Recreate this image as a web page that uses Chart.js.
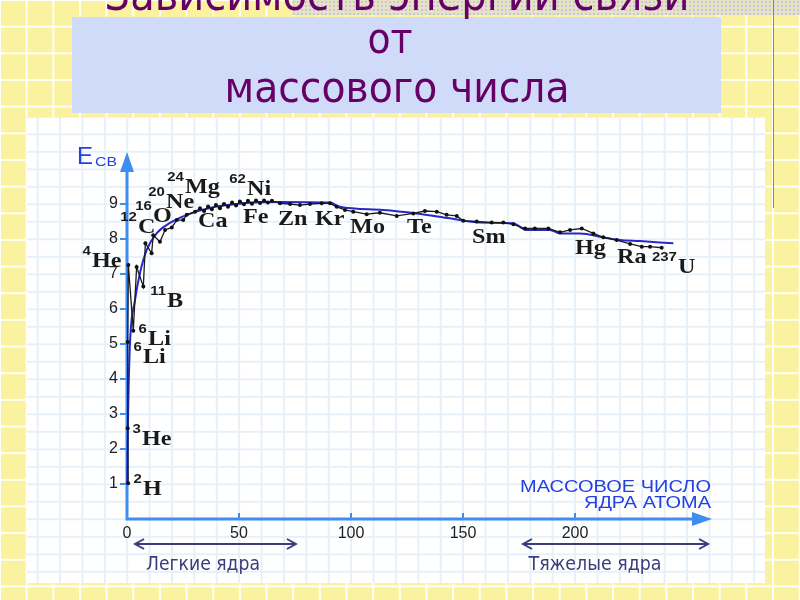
<!DOCTYPE html>
<html lang="ru">
<head>
<meta charset="utf-8">
<title>Зависимость энергии связи от массового числа</title>
<script src="https://cdn.jsdelivr.net/npm/chart.js@4.4.1/dist/chart.umd.min.js"></script>
<style>
  html, body { margin: 0; padding: 0; }
  body {
    width: 800px; height: 600px; overflow: hidden; position: relative;
    background-color: #faf29e;
    background-image: linear-gradient(to right, rgba(255,255,255,.95) 2px, transparent 2px),
                      linear-gradient(to bottom, rgba(255,255,255,.95) 2px, transparent 2px);
    background-size: 26.67px 26.67px;
    background-position: -1px -1px;
  }
  #strip { position: absolute; left: 292px; top: 0; width: 508px; height: 15px;
    background-color: #e6e2c4;
    background-image: radial-gradient(circle, #c8c7d6 1px, transparent 1.4px);
    background-size: 4px 4px; }
  #vline { position: absolute; left: 773px; top: 0; width: 1px; height: 208px; background: #7f86b4; }
  #titlebox { position: absolute; left: 72px; top: 17px; width: 649px; height: 96px; background: #cfdbf8; }
  #panel { position: absolute; left: 27px; top: 117px; width: 738px; height: 466px;
    background-color: #fff;
    background-image: linear-gradient(to right, #e6f0f9 1.5px, transparent 1.5px),
                      linear-gradient(to bottom, #e6f0f9 1.5px, transparent 1.5px);
    background-size: 22.4px 17.5px;
    background-position: 9.7px 0, 0 -1.2px; }
  #chart { position: absolute; left: 27px; top: 117px; }
  #overlay { position: absolute; left: 0; top: 0; pointer-events: none; }
</style>
</head>
<body>
<div id="strip"></div>
<div id="vline"></div>
<div id="titlebox"></div>
<div id="panel"></div>
<canvas id="chart" width="738" height="466"></canvas>
<svg id="overlay" width="800" height="600">
  <g font-family="'DejaVu Sans Condensed', 'DejaVu Sans'" fill="#660066" text-anchor="middle">
    <text x="397" y="10" font-size="44" textLength="585" lengthAdjust="spacingAndGlyphs">Зависимость энергии связи</text>
    <text x="390" y="53" font-size="42">от</text>
    <text x="397" y="102" font-size="42" textLength="345" lengthAdjust="spacingAndGlyphs">массового числа</text>
  </g>
  <g font-family="'Liberation Sans', Arial" fill="#2440e0">
    <text x="77" y="164" font-size="24">Е</text>
    <text x="95" y="166" font-size="13" textLength="22" lengthAdjust="spacingAndGlyphs">СВ</text>
    <text x="711" y="492" font-size="16.5" text-anchor="end" textLength="191" lengthAdjust="spacingAndGlyphs">МАССОВОЕ ЧИСЛО</text>
    <text x="711" y="508" font-size="16.5" text-anchor="end" textLength="127" lengthAdjust="spacingAndGlyphs">ЯДРА АТОМА</text>
  </g>
  <g font-family="'DejaVu Sans Condensed', 'DejaVu Sans'" fill="#3a3c7c" font-size="20" text-anchor="middle">
    <text x="203" y="570" textLength="114" lengthAdjust="spacingAndGlyphs">Легкие ядра</text>
    <text x="595" y="570" textLength="133" lengthAdjust="spacingAndGlyphs">Тяжелые ядра</text>
  </g>
</svg>
<script>
// experimental binding energy per nucleon (black line with dots)
let expMass = [0.5, 0.3, 0.3, 0.6, 2.8, 4.3, 7.3, 8.2, 11.0, 11.7, 14.7, 17.0, 20.0, 22.2, 25.1, 26.7, 30.4, 32.6,
  34.4, 36.2, 37.9, 39.7, 41.5, 43.3, 45.1, 46.9, 48.7, 50.4, 52.2, 54.0, 55.8, 57.6, 59.4, 61.2, 62.9, 64.7,
  68.3, 72.8, 77.2, 81.7, 86.9, 90.6, 93.6, 97.3, 101.0, 107.0, 112.9, 120.4, 127.8, 133.0, 138.3, 142.7, 147.2,
  150.1, 156.1, 162.8, 168.0, 172.5, 177.7, 182.1, 188.1, 193.3, 197.8, 203.0, 208.2, 212.6, 218.6, 224.6,
  229.8, 233.5, 238.7];
let expEnergy = [1.02, 2.59, 5.06, 7.26, 5.38, 7.2, 6.64, 7.88, 7.59, 8.11, 7.92, 8.26, 8.33, 8.54, 8.54, 8.69, 8.78, 8.88,
  8.8, 8.93, 8.85, 8.97, 8.88, 9.0, 8.92, 9.04, 8.96, 9.07, 8.99, 9.09, 9.01, 9.1, 9.03, 9.1, 9.04, 9.09,
  9.02, 9.0, 8.97, 9.0, 9.02, 9.02, 8.92, 8.83, 8.78, 8.71, 8.75, 8.66, 8.73, 8.8, 8.78, 8.69, 8.66,
  8.52, 8.5, 8.47, 8.47, 8.42, 8.3, 8.3, 8.3, 8.19, 8.26, 8.3, 8.16, 8.05, 7.97, 7.86,
  7.78, 7.78, 7.75];

// smooth curve (blue)
let fitMass = [0.1, 0.5, 1.3, 3.6, 5.8, 8.8, 13.3, 19.2, 26.7, 38.4, 53.4, 68.3, 90.6, 95.1, 114.4, 129.3, 144.2,
  157.6, 172.3, 178.4, 188.8, 193.3, 202.2, 212.5, 220.1, 229.0, 237.9, 243.9];
let fitEnergy = [1.0, 3.0, 4.97, 6.26, 7.03, 7.69, 8.17, 8.46, 8.69, 8.91, 9.03, 9.06, 9.04, 8.92, 8.83, 8.73, 8.59,
  8.47, 8.45, 8.26, 8.26, 8.16, 8.16, 8.05, 7.97, 7.94, 7.9, 7.88];

// nuclide labels
let nuclideMassNo = ['4', '12', '16', '20', '24', '62', '', '', '', '', '', '', '', '', '', '237', '11', '6', '6', '3', '2'];
let nuclideSymbol = ['He', 'C', 'O', 'Ne', 'Mg', 'Ni', 'Fe', 'Ca', 'Zn', 'Kr', 'Mo', 'Te', 'Sm', 'Hg', 'Ra', 'U', 'B', 'Li', 'Li', 'He', 'H'];
let labelMass = [-15.6, 4.9, 11.6, 17.4, 25.9, 53.6, 51.8, 31.7, 67.4, 83.9, 99.6, 125.0, 154.0, 200.0, 218.8, 246.0, 17.9, 9.4, 7.1, 6.7, 7.1];
let labelEnergy = [7.2, 8.17, 8.49, 8.89, 9.31, 9.26, 8.46, 8.34, 8.4, 8.4, 8.17, 8.17, 7.89, 7.57, 7.31, 7.03, 6.06, 4.97, 4.46, 2.11, 0.69];

// light and heavy nuclei ranges
let lightRange = [3.6, 75.4];
let heavyRange = [176.8, 259.4];

const AXIS_BLUE = '#3d8ef0';

const axesAndLabels = {
  id: 'axesAndLabels',
  beforeDatasetsDraw(chart) {
    const {ctx, chartArea: a, scales: {x, y}} = chart;
    ctx.save();
    ctx.strokeStyle = AXIS_BLUE;
    ctx.fillStyle = AXIS_BLUE;
    ctx.lineWidth = 3;
    ctx.beginPath();
    ctx.moveTo(a.left, a.bottom + 1.5);
    ctx.lineTo(a.left, a.top + 12);
    ctx.moveTo(a.left - 1.5, a.bottom);
    ctx.lineTo(a.right - 12, a.bottom);
    ctx.stroke();
    // arrow heads
    ctx.beginPath();
    ctx.moveTo(a.left, a.top);
    ctx.lineTo(a.left - 7, a.top + 20);
    ctx.lineTo(a.left + 7, a.top + 20);
    ctx.closePath();
    ctx.moveTo(a.right, a.bottom);
    ctx.lineTo(a.right - 20, a.bottom - 7);
    ctx.lineTo(a.right - 20, a.bottom + 7);
    ctx.closePath();
    ctx.fill();
    // tick marks
    ctx.lineWidth = 2;
    ctx.beginPath();
    x.ticks.forEach(t => {
      if (t.value > 0 && t.value <= 200) {
        const px = x.getPixelForValue(t.value);
        ctx.moveTo(px, a.bottom);
        ctx.lineTo(px, a.bottom - 6);
      }
    });
    y.ticks.forEach(t => {
      if (t.value >= 1 && t.value <= 9) {
        const py = y.getPixelForValue(t.value);
        ctx.moveTo(a.left - 7, py);
        ctx.lineTo(a.left, py);
      }
    });
    ctx.stroke();

    // light / heavy nuclei double arrows
    ctx.strokeStyle = '#3a3c7c';
    ctx.lineWidth = 2;
    const yy = a.bottom + 25;
    [lightRange, heavyRange].forEach(r => {
      const x0 = x.getPixelForValue(r[0]), x1 = x.getPixelForValue(r[1]);
      ctx.beginPath();
      ctx.moveTo(x0, yy); ctx.lineTo(x1, yy);
      ctx.moveTo(x0 + 9, yy - 5); ctx.lineTo(x0, yy); ctx.lineTo(x0 + 9, yy + 5);
      ctx.moveTo(x1 - 9, yy - 5); ctx.lineTo(x1, yy); ctx.lineTo(x1 - 9, yy + 5);
      ctx.stroke();
    });
    ctx.restore();
  },
  afterDatasetsDraw(chart) {
    const {ctx, scales: {x, y}} = chart;
    ctx.save();
    ctx.fillStyle = '#1a1a1a';
    ctx.textBaseline = 'alphabetic';
    nuclideSymbol.forEach((sym, i) => {
      const px = x.getPixelForValue(labelMass[i]);
      const py = y.getPixelForValue(labelEnergy[i]);
      ctx.save();
      ctx.translate(px, py);
      ctx.scale(1.15, 1);
      ctx.font = 'bold 21px "Liberation Serif", "Times New Roman", serif';
      ctx.textAlign = 'left';
      ctx.fillText(sym, 0, 0);
      if (nuclideMassNo[i]) {
        ctx.font = 'bold 13px "Liberation Sans", Arial, sans-serif';
        ctx.textAlign = 'right';
        ctx.fillText(nuclideMassNo[i], -1, -12);
      }
      ctx.restore();
    });
    ctx.restore();
  }
};

const tickFont = {family: '"Liberation Sans", Arial, sans-serif', size: 16};

new Chart(document.getElementById('chart'), {
  type: 'line',
  data: {
    datasets: [{
      label: 'эксперимент',
      data: expMass.map((m, i) => ({x: m, y: expEnergy[i]})),
      borderColor: '#1c1c1c',
      backgroundColor: '#111',
      borderWidth: 1.3,
      pointRadius: 2,
      pointBorderWidth: 0,
      tension: 0,
      clip: false,
      order: 0
    }, {
      label: 'расчёт',
      data: fitMass.map((m, i) => ({x: m, y: fitEnergy[i]})),
      borderColor: '#2828c8',
      borderWidth: 2,
      pointRadius: 0,
      cubicInterpolationMode: 'monotone',
      clip: false,
      order: 1
    }]
  },
  options: {
    responsive: false,
    animation: false,
    events: [],
    layout: {padding: {top: 35, right: 53, left: 0, bottom: 0}},
    plugins: {legend: {display: false}, tooltip: {enabled: false}},
    scales: {
      x: {
        type: 'linear',
        min: 0,
        max: 261.16,
        afterFit(s) { s.height = 64; },
        grid: {display: false, drawTicks: false},
        border: {display: false},
        ticks: {
          stepSize: 50, includeBounds: false, padding: 5, color: '#222', font: tickFont,
          maxRotation: 0, autoSkip: false,
          callback: v => (v <= 200 ? v : '')
        }
      },
      y: {
        type: 'linear',
        min: 0,
        max: 10.486,
        afterFit(s) { s.width = 100; },
        grid: {display: false, drawTicks: false},
        border: {display: false},
        ticks: {
          stepSize: 1, includeBounds: false, padding: 9, color: '#222', font: tickFont,
          callback: v => (v >= 1 && v <= 9 ? v : '')
        }
      }
    }
  },
  plugins: [axesAndLabels]
});
</script>
</body>
</html>
